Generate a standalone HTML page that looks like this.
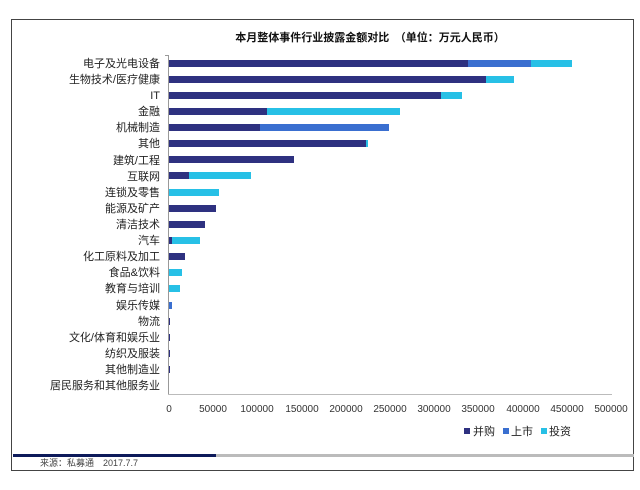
<!DOCTYPE html>
<html><head><meta charset="utf-8"><style>
body{margin:0;background:#fff;width:640px;height:485px;overflow:hidden}
svg text{font-family:"Liberation Sans","Noto Sans CJK SC",sans-serif}
</style></head><body>
<svg width="640" height="485" viewBox="0 0 640 485">
<rect x="11.5" y="19.5" width="622" height="451" fill="#fff" stroke="#444" stroke-width="1"/>
<text x="370" y="41" font-size="11" font-weight="bold" text-anchor="middle" fill="#111">本月整体事件行业披露金额对比　（单位：万元人民币）</text>
<g font-size="11" fill="#222" text-anchor="end">
<text x="160" y="67">电子及光电设备</text>
<text x="160" y="83">生物技术/医疗健康</text>
<text x="160" y="99">IT</text>
<text x="160" y="115">金融</text>
<text x="160" y="131">机械制造</text>
<text x="160" y="147">其他</text>
<text x="160" y="164">建筑/工程</text>
<text x="160" y="180">互联网</text>
<text x="160" y="196">连锁及零售</text>
<text x="160" y="212">能源及矿产</text>
<text x="160" y="228">清洁技术</text>
<text x="160" y="244">汽车</text>
<text x="160" y="260">化工原料及加工</text>
<text x="160" y="276">食品&amp;饮料</text>
<text x="160" y="292">教育与培训</text>
<text x="160" y="309">娱乐传媒</text>
<text x="160" y="325">物流</text>
<text x="160" y="341">文化/体育和娱乐业</text>
<text x="160" y="357">纺织及服装</text>
<text x="160" y="373">其他制造业</text>
<text x="160" y="389">居民服务和其他服务业</text>
</g>
<line x1="168.5" y1="55" x2="168.5" y2="394" stroke="#999"/>
<line x1="168" y1="394.5" x2="612" y2="394.5" stroke="#bbb"/>
<g stroke="#999">
<line x1="165" y1="55.5" x2="168" y2="55.5"/>
</g>
<g fill="#2e3180">
<rect x="169" y="60" width="299" height="7"/>
<rect x="169" y="76" width="317" height="7"/>
<rect x="169" y="92" width="272" height="7"/>
<rect x="169" y="108" width="98" height="7"/>
<rect x="169" y="124" width="91" height="7"/>
<rect x="169" y="140" width="197" height="7"/>
<rect x="169" y="156" width="125" height="7"/>
<rect x="169" y="172" width="20" height="7"/>
<rect x="169" y="205" width="47" height="7"/>
<rect x="169" y="221" width="36" height="7"/>
<rect x="169" y="237" width="3" height="7"/>
<rect x="169" y="253" width="16" height="7"/>
<rect x="169" y="318" width="1" height="7"/>
<rect x="169" y="334" width="1" height="7"/>
<rect x="169" y="350" width="1" height="7"/>
<rect x="169" y="366" width="1" height="7"/>
</g>
<g fill="#3a6fd0">
<rect x="468" y="60" width="63" height="7"/>
<rect x="260" y="124" width="129" height="7"/>
<rect x="169" y="302" width="3" height="7"/>
</g>
<g fill="#27c0e6">
<rect x="531" y="60" width="41" height="7"/>
<rect x="486" y="76" width="28" height="7"/>
<rect x="441" y="92" width="21" height="7"/>
<rect x="267" y="108" width="133" height="7"/>
<rect x="366" y="140" width="2" height="7"/>
<rect x="189" y="172" width="62" height="7"/>
<rect x="169" y="189" width="50" height="7"/>
<rect x="172" y="237" width="28" height="7"/>
<rect x="169" y="269" width="13" height="7"/>
<rect x="169" y="285" width="11" height="7"/>
</g>
<g font-size="10" fill="#333" text-anchor="middle">
<text x="169" y="412">0</text><text x="213" y="412">50000</text><text x="257" y="412">100000</text><text x="302" y="412">150000</text><text x="346" y="412">200000</text><text x="390" y="412">250000</text><text x="434" y="412">300000</text><text x="478" y="412">350000</text><text x="523" y="412">400000</text><text x="567" y="412">450000</text><text x="611" y="412">500000</text>
</g>
<g font-size="11" fill="#222">
<rect x="464" y="428" width="6" height="6" fill="#2e3180"/><text x="473" y="435">并购</text>
<rect x="503" y="428" width="6" height="6" fill="#3a6fd0"/><text x="511" y="435">上市</text>
<rect x="541" y="428" width="6" height="6" fill="#27c0e6"/><text x="549" y="435">投资</text>
</g>
<rect x="13" y="454" width="203" height="3" fill="#0d1a5a"/>
<rect x="216" y="454" width="418" height="3" fill="#bbb"/>
<text x="40" y="466" font-size="9" fill="#444">来源：私募通　2017.7.7</text>
</svg>
</body></html>
